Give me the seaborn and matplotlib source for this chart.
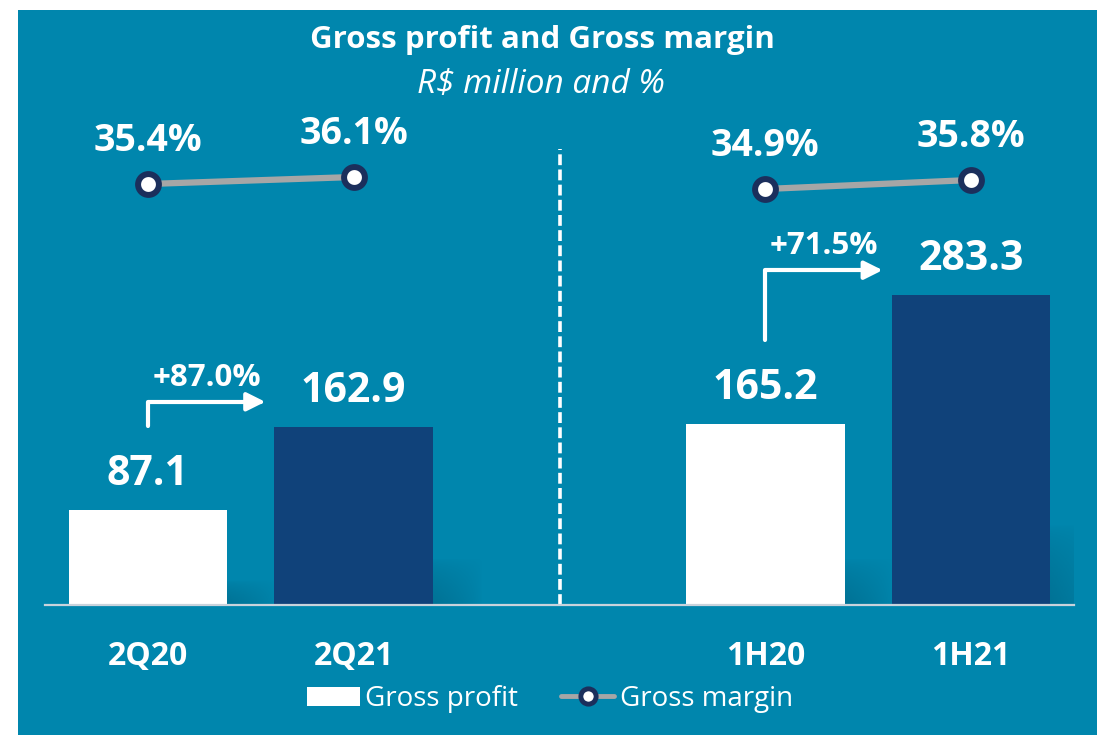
import matplotlib
matplotlib.use("Agg")
import matplotlib.pyplot as plt
from matplotlib.patches import Rectangle, Patch
from matplotlib.lines import Line2D
import seaborn as sns
import pandas as pd
import numpy as np

# Data
periods = ["2Q20", "2Q21", "1H20", "1H21"]
gross_profit = [87.1, 162.9, 165.2, 283.3]
gross_margin = [35.4, 36.1, 34.9, 35.8]
groups = ["quarter", "quarter", "half", "half"]
order = ["2Q20", "2Q21", "", "1H20", "1H21"]

teal = "#0086ad"
navy = "#10427a"
ring = "#1b2f5c"
gray = "#a6a6a6"

df = pd.DataFrame({"period": periods, "profit": gross_profit,
                   "margin": gross_margin, "group": groups})
df["pos"] = [order.index(p) for p in periods]

sns.set_style("white")
plt.rcParams["font.family"] = ["Open Sans", "DejaVu Sans"]

fig = plt.figure(figsize=(10.97, 7.35), dpi=100, facecolor="white")
fig.add_artist(Rectangle((18 / 1097, 0), 1, 725 / 735, transform=fig.transFigure,
                         facecolor=teal, edgecolor="none", zorder=-10))

ax = fig.add_axes([45 / 1097, 130 / 735, 1029 / 1097, 505 / 735])
ax.set_facecolor("none")

bar_w = 0.77
pal = {p: ("white" if i % 2 == 0 else navy) for i, p in enumerate(periods)}
sns.barplot(data=df, x="period", y="profit", order=order, hue="period",
            palette=pal, width=bar_w, saturation=1, legend=False,
            edgecolor="none", ax=ax)

# soft shadows at the foot of each bar
gx, gy = np.meshgrid(np.linspace(0, 1, 40), np.linspace(0, 1, 40))
shade = np.zeros((40, 40, 4))
shade[..., :3] = matplotlib.colors.to_rgb("#005a78")
shade[..., 3] = 0.45 * np.clip(1 - gx, 0, 1) ** 0.7 * np.clip(1 - gy, 0, 1) ** 0.6
for x, v in zip(df["pos"], gross_profit):
    ax.imshow(shade, extent=[x + bar_w / 2, x + bar_w / 2 + 0.24, 0, v * 0.26],
              origin="lower", aspect="auto", zorder=0.5, interpolation="bilinear")

ax.set_ylim(0, 462)
ax.set_xlim(-0.5, 4.5)

# value labels on bars
for x, v in zip(df["pos"], gross_profit):
    ax.text(x, v + 23, f"{v:.1f}", ha="center", va="baseline",
            fontsize=29.5, fontweight="bold", color="white")

# growth arrows
for i in range(0, len(periods), 2):
    x0, x1 = df["pos"][i], df["pos"][i + 1]
    v0, v1 = gross_profit[i], gross_profit[i + 1]
    y_top = v1 + 23
    tip = x1 - 0.43
    ax.annotate("", xy=(tip, y_top), xytext=(x0, v0 + 77),
                arrowprops=dict(arrowstyle="-|>,head_length=1.1,head_width=0.55",
                                connectionstyle="angle,angleA=90,angleB=0,rad=0",
                                color="white", lw=3, shrinkA=0, shrinkB=0))
    ax.text((x0 + tip) / 2, y_top + 14.5, f"+{(v1 / v0 - 1) * 100:.1f}%",
            ha="center", va="baseline", fontsize=22.5, fontweight="bold",
            color="white")

# divider
ax.axvline(2, ymin=0, ymax=0.903, color="white", lw=2.6, ls=(0, (3, 1.2)))

ax.set_xticks(range(len(order)))
ax.set_xticklabels(order, fontsize=23, fontweight="bold", color="white")
ax.tick_params(axis="x", length=0, pad=25)
ax.set_yticks([])
ax.set_xlabel("")
ax.set_ylabel("")
for s in ["top", "right", "left"]:
    ax.spines[s].set_visible(False)
ax.spines["bottom"].set_color("#c9d3dc")
ax.spines["bottom"].set_linewidth(1.6)

# margin line on twin axis
ax2 = ax.twinx()
sns.lineplot(data=df, x="pos", y="margin", units="group", estimator=None,
             color=gray, lw=4.5, marker="o", markersize=15,
             markerfacecolor="white", markeredgecolor=ring,
             markeredgewidth=4.3, ax=ax2, legend=False)
ax2.set_ylim(-6.7, 43.8)
ax2.set_xlim(-0.5, 4.5)
for x, m in zip(df["pos"], gross_margin):
    ax2.text(x, m + 3.3, f"{m:.1f}%", ha="center", va="baseline",
             fontsize=27, fontweight="bold", color="white")
ax2.set_yticks([])
ax2.set_ylabel("")
ax2.set_xlabel("")
for s in ax2.spines.values():
    s.set_visible(False)

# titles
fig.text(542 / 1097, 1 - 48 / 735, "Gross profit and Gross margin",
         ha="center", va="baseline", fontsize=22.5, fontweight="bold", color="white")
fig.text(541 / 1097, 1 - 93 / 735, "R$ million and %", ha="center",
         va="baseline", fontsize=24, style="italic", color="white")

# legend
handles = [Patch(facecolor="white", edgecolor="none", label="Gross profit"),
           Line2D([], [], color=gray, lw=3.5, marker="o", markersize=11,
                  markerfacecolor="white", markeredgecolor=ring,
                  markeredgewidth=3.5, label="Gross margin")]
leg = fig.legend(handles=handles, loc="center", ncol=2, frameon=False,
                 bbox_to_anchor=(550 / 1097, 1 - 699 / 735), fontsize=20,
                 handlelength=1.9, handleheight=0.65, handletextpad=0.2,
                 columnspacing=1.55, numpoints=1)
for t in leg.get_texts():
    t.set_color("white")

fig.savefig("out.png", dpi=100, facecolor=fig.get_facecolor())
